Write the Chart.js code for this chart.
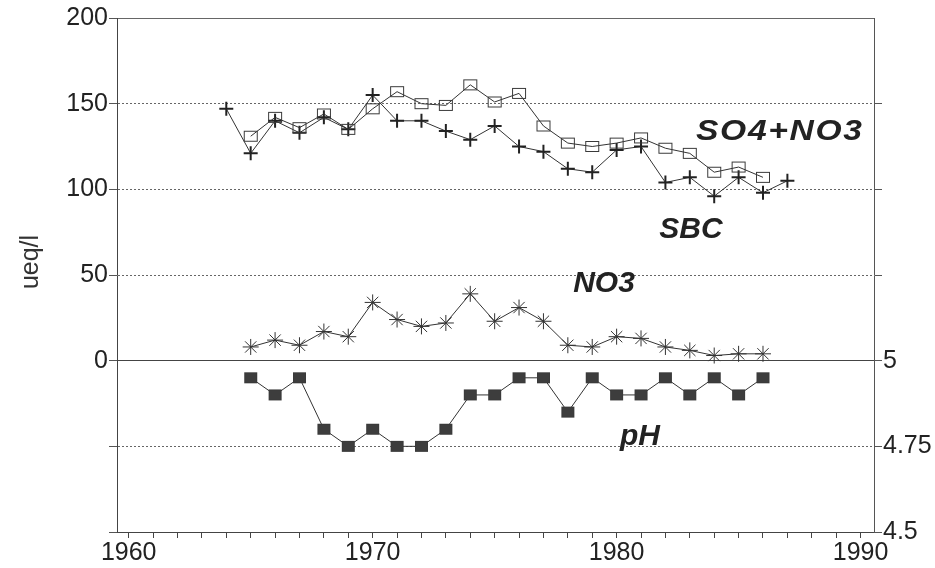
<!DOCTYPE html>
<html>
<head>
<meta charset="utf-8">
<script src="https://cdn.jsdelivr.net/npm/chart.js@4"></script>
<style>
  html, body { margin: 0; padding: 0; background: #fff; }
  #wrap { width: 935px; height: 568px; }
</style>
</head>
<body>
<div id="wrap"><canvas id="chart" width="935" height="568"></canvas></div>
<script>
// data
const sbcYears = [1964, 1965, 1966, 1967, 1968, 1969, 1970, 1971, 1972, 1973, 1974, 1975,
                  1976, 1977, 1978, 1979, 1980, 1981, 1982, 1983, 1984, 1985, 1986, 1987];
const sbc = [147, 121, 140, 133, 142, 135, 155, 140, 140, 134, 129, 137,
             125, 122, 112, 110, 123, 125, 104, 107, 96, 107, 98, 105];

const years = [1965, 1966, 1967, 1968, 1969, 1970, 1971, 1972, 1973, 1974, 1975,
               1976, 1977, 1978, 1979, 1980, 1981, 1982, 1983, 1984, 1985, 1986];
const so4no3 = [131, 142, 136, 144, 135, 147, 157, 150, 149, 161, 151,
                156, 137, 127, 125, 127, 130, 124, 121, 110, 113, 107];
const no3 = [8, 12, 9, 17, 14, 34, 24, 20, 22, 39, 23,
             31, 23, 9, 8, 14, 13, 8, 6, 3, 4, 4];
const ph = [4.95, 4.9, 4.95, 4.8, 4.75, 4.8, 4.75, 4.75, 4.8, 4.9, 4.9,
            4.95, 4.95, 4.85, 4.95, 4.9, 4.9, 4.95, 4.9, 4.95, 4.9, 4.95];

const xTicks = [];
for (let y = 1960; y <= 1990; y++) xTicks.push(y);

const ink = '#333';
const tickFont = { family: "'Liberation Sans', Arial, sans-serif", size: 25 };

function pairs(xs, ys) {
    return xs.map((x, i) => ({ x: x, y: ys[i] }));
}

// little boxes used as markers
function boxMarker(w, h, fill) {
    const c = document.createElement('canvas');
    c.width = w + 2;
    c.height = h + 2;
    const g = c.getContext('2d');
    if (fill) {
        g.fillStyle = fill;
        g.fillRect(1, 1, w, h);
    }
    g.strokeStyle = '#3a3a3a';
    g.lineWidth = 1;
    g.strokeRect(1.5, 1.5, w - 1, h - 1);
    return c;
}

const openBox = boxMarker(14, 11, null);
const darkBox = boxMarker(13, 11, '#3d3d3d');

const textPlugin = {
    id: 'labels',
    afterDraw(chart) {
        const ctx = chart.ctx;
        ctx.save();
        ctx.fillStyle = '#222';
        ctx.textBaseline = 'middle';
        ctx.font = "bold italic 30px 'Liberation Sans', Arial, sans-serif";

        // the SO4+NO3 label is drawn a little wider, like in the original
        ctx.save();
        ctx.textAlign = 'left';
        ctx.translate(696, 132);
        ctx.scale(1.12, 1);
        ctx.letterSpacing = '1.5px';
        ctx.fillText('SO4+NO3', 0, 0);
        ctx.restore();

        ctx.textAlign = 'center';
        ctx.fillText('SBC', 691, 230);
        ctx.fillText('NO3', 604, 284);
        ctx.fillText('pH', 640, 437);

        ctx.font = "25px 'Liberation Sans', Arial, sans-serif";
        ctx.fillStyle = ink;
        ctx.translate(31, 262);
        ctx.rotate(-Math.PI / 2);
        ctx.fillText('ueq/l', 0, 0);
        ctx.restore();
    }
};

new Chart(document.getElementById('chart'), {
    type: 'line',
    data: {
        datasets: [
            {
                label: 'SO4+NO3',
                data: pairs(years, so4no3),
                borderColor: ink,
                borderWidth: 1,
                pointStyle: openBox,
                yAxisID: 'y'
            },
            {
                label: 'SBC',
                data: pairs(sbcYears, sbc),
                borderColor: ink,
                borderWidth: 1,
                pointStyle: 'cross',
                pointRadius: 7,
                pointBorderColor: '#222',
                pointBorderWidth: 2,
                yAxisID: 'y'
            },
            {
                label: 'NO3',
                data: pairs(years, no3),
                borderColor: ink,
                borderWidth: 1,
                pointStyle: 'star',
                pointRadius: 8,
                pointBorderColor: '#333',
                pointBorderWidth: 1,
                yAxisID: 'y'
            },
            {
                label: 'pH',
                data: pairs(years, ph),
                borderColor: ink,
                borderWidth: 1,
                pointStyle: darkBox,
                yAxisID: 'y2'
            }
        ]
    },
    options: {
        responsive: false,
        animation: false,
        layout: { padding: { top: 18, left: 0, right: 0, bottom: 0 } },
        plugins: {
            legend: { display: false },
            tooltip: { enabled: false }
        },
        scales: {
            x: {
                type: 'linear',
                min: 1959.52,
                max: 1990.55,
                afterBuildTicks: function(scale) {
                    scale.ticks = xTicks.map(v => ({ value: v }));
                },
                afterFit: function(scale) { scale.height = 36; },
                ticks: {
                    autoSkip: false,
                    maxRotation: 0,
                    padding: 0,
                    color: '#222',
                    font: tickFont,
                    callback: v => (v % 10 === 0 ? String(v) : '')
                },
                grid: { drawOnChartArea: false, tickLength: 6, color: '#444' },
                border: { color: '#444', width: 1 }
            },
            y: {
                position: 'left',
                min: -100,
                max: 200,
                afterFit: function(scale) { scale.width = 117; },
                ticks: {
                    stepSize: 50,
                    autoSkip: false,
                    padding: 1,
                    color: '#222',
                    font: tickFont,
                    callback: v => (v >= 0 ? String(v) : '')
                },
                grid: {
                    tickLength: 8,
                    color: function(context) {
                        const v = context.tick ? context.tick.value : null;
                        if (v === 0) return '#444';
                        return '#666';
                    },
                    tickColor: '#555'
                },
                border: {
                    color: '#444',
                    width: 1,
                    dash: function(context) {
                        const v = context.tick ? context.tick.value : null;
                        if (v === 0 || v === 200 || v === -100) return [];
                        return [2, 2];
                    }
                }
            },
            y2: {
                position: 'right',
                min: 4.5,
                max: 6,
                afterFit: function(scale) { scale.width = 61; },
                ticks: {
                    stepSize: 0.25,
                    autoSkip: false,
                    padding: 1,
                    color: '#222',
                    font: tickFont,
                    callback: v => (v <= 5.001 ? String(Math.round(v * 100) / 100) : '')
                },
                grid: {
                    drawOnChartArea: false,
                    tickLength: 8,
                    tickColor: function(context) {
                        const v = context.tick ? context.tick.value : null;
                        return v > 5.9 ? 'rgba(0,0,0,0)' : '#555';
                    }
                },
                border: { color: '#555', width: 1 }
            }
        }
    },
    plugins: [textPlugin]
});
</script>
</body>
</html>
